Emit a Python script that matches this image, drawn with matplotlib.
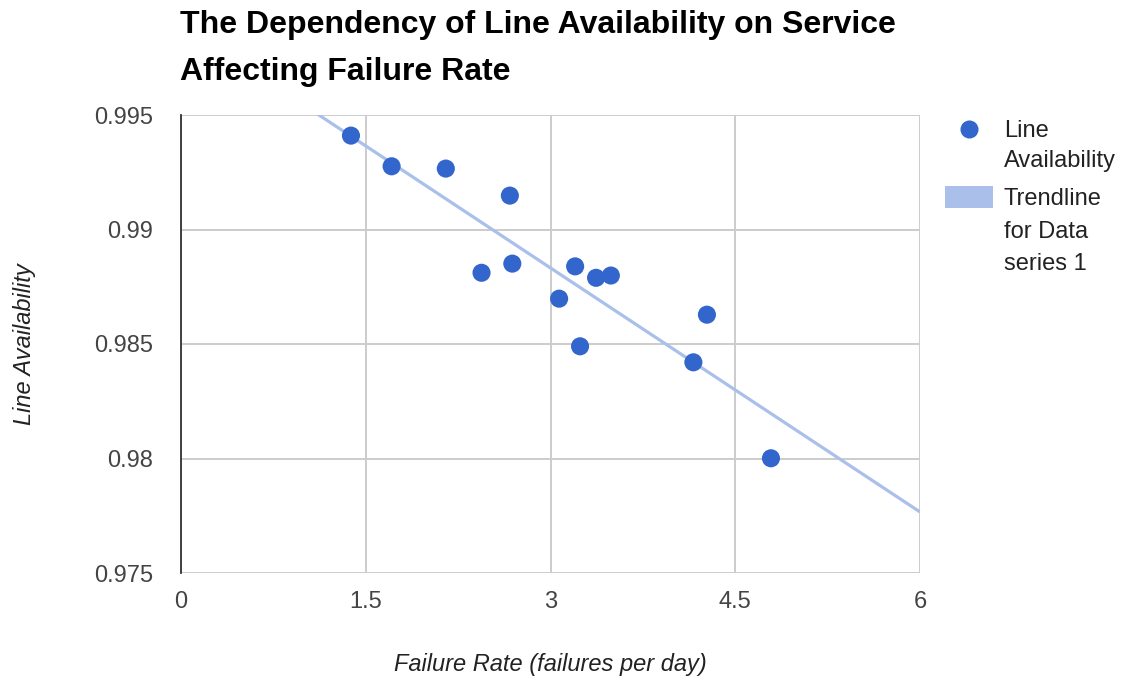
import numpy as np
import matplotlib
matplotlib.use("Agg")
import matplotlib.pyplot as plt
from matplotlib.lines import Line2D
from matplotlib.patches import Rectangle

# failures per day vs. measured line availability
failure_rate = [1.38, 1.71, 2.15, 2.67, 2.44, 2.69, 3.07, 3.20, 3.24, 3.37, 3.49, 4.27, 4.16, 4.79]
availability = [0.99410, 0.99276, 0.99266, 0.99148, 0.98811, 0.98851, 0.98698,
                0.98839, 0.98490, 0.98789, 0.98799, 0.98628, 0.98420, 0.98001]

x_ticks = [0, 1.5, 3, 4.5, 6]
x_tick_labels = ["0", "1.5", "3", "4.5", "6"]
y_ticks = [0.975, 0.98, 0.985, 0.99, 0.995]
y_tick_labels = ["0.975", "0.98", "0.985", "0.99", "0.995"]

BLUE = "#3366cc"
TREND = "#aac0ea"
GRID = "#cccccc"

plt.rcParams["font.family"] = ["Liberation Sans", "DejaVu Sans"]

fig = plt.figure(figsize=(11.26, 6.79), dpi=100)
ax = fig.add_axes([181 / 1126, 1 - 573 / 679, (920 - 181) / 1126, (573 - 115) / 679])

# least squares trendline across the whole x range
slope, intercept = np.polyfit(failure_rate, availability, 1)
tx = np.array([0, 6])
ax.plot(tx, slope * tx + intercept, color=TREND, lw=2.3, zorder=2, solid_capstyle="butt")

ax.scatter(failure_rate, availability, s=170, color=BLUE, edgecolors="none", zorder=3)

ax.set_xlim(0, 6)
ax.set_ylim(0.975, 0.995)
ax.set_xticks(x_ticks)
ax.set_xticklabels(x_tick_labels)
ax.set_yticks(y_ticks)
ax.set_yticklabels(y_tick_labels)
ax.tick_params(length=0, labelsize=17, labelcolor="#444444")
ax.tick_params(axis="x", pad=13)
ax.tick_params(axis="y", pad=20)
ax.grid(True, color=GRID, lw=1.4, zorder=0)
ax.set_axisbelow(True)
for side in ["top", "right", "bottom"]:
    ax.spines[side].set_visible(False)
ax.spines["left"].set_color("#333333")
ax.spines["left"].set_linewidth(1.3)
ax.spines["left"].set_zorder(4)

ax.set_xlabel("Failure Rate (failures per day)", fontsize=17, style="italic",
              color="#222222", labelpad=29)
ax.set_ylabel("Line Availability", fontsize=17, style="italic",
              color="#222222", labelpad=42)

fig.text(180 / 1126, 1 - 10 / 679,
         "The Dependency of Line Availability on Service\nAffecting Failure Rate",
         fontsize=23, fontweight="bold", color="#000000", va="top", ha="left",
         linespacing=1.72)

# legend, drawn by hand so the keys sit on the first line of each label
fig.add_artist(Line2D([969 / 1126], [1 - 129 / 679], marker="o", markersize=13,
                      color=BLUE, markeredgewidth=0, transform=fig.transFigure))
fig.add_artist(Rectangle((945 / 1126, 1 - 208 / 679), 48 / 1126, 22 / 679,
                         facecolor=TREND, edgecolor="none", transform=fig.transFigure))
fig.text(1004 / 1126, 1 - 120 / 679, "Line\nAvailability", fontsize=17,
         color="#222222", va="top", ha="left", linespacing=1.45)
fig.text(1004 / 1126, 1 - 188 / 679, "Trendline\nfor Data\nseries 1", fontsize=17,
         color="#222222", va="top", ha="left", linespacing=1.62)

fig.savefig("out.png", dpi=100)
